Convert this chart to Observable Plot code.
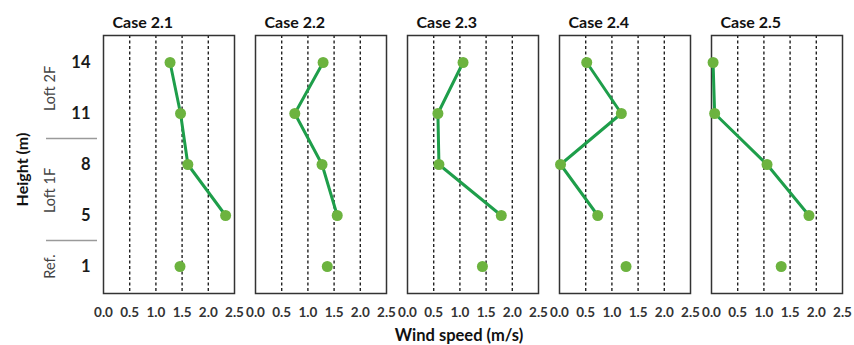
<!DOCTYPE html>
<html>
<head>
<meta charset="utf-8">
<script src="https://cdn.jsdelivr.net/npm/d3@7"></script>
<script src="https://cdn.jsdelivr.net/npm/@observablehq/plot@0.6"></script>
<style>
  html, body { margin: 0; padding: 0; background: #fff; }
</style>
</head>
<body>
<div id="chart"></div>
<script>
const cases = ["Case 2.1", "Case 2.2", "Case 2.3", "Case 2.4", "Case 2.5"];
const heights = ["14", "11", "8", "5", "1"];
const speed21 = [1.27, 1.47, 1.61, 2.33, 1.46];
const speed22 = [1.29, 0.75, 1.27, 1.56, 1.37];
const speed23 = [1.06, 0.58, 0.60, 1.79, 1.43];
const speed24 = [0.52, 1.18, 0.02, 0.73, 1.27];
const speed25 = [0.03, 0.06, 1.06, 1.86, 1.33];
const xTicks = [0, 0.5, 1.0, 1.5, 2.0, 2.5];
const gridValues = [0.5, 1.0, 1.5, 2.0];
const groupLabels = ["Loft 2F", "Loft 1F", "Ref."];
const profileHeights = ["14", "11", "8", "5"]; // connected by the line; "1" is the reference point
const xLabel = "Wind speed (m/s)";
const yLabel = "Height (m)";

const series = [speed21, speed22, speed23, speed24, speed25];
const rows = [];
cases.forEach((c, i) => heights.forEach((h, j) => rows.push({case: c, height: h, speed: series[i][j]})));
const lineRows = rows.filter(r => profileHeights.includes(r.height));

const lineColor = "#1e9e4a";
const dotColor = "#6cb33f";
const first = cases[0];
const groupStyle = {fx: () => first, frameAnchor: "left", textAnchor: "middle", lineAnchor: "middle", dx: -53, rotate: -90, text: d => d, fontSize: 14.5, fontWeight: "normal", fill: "#444"};

const chart = Plot.plot({
  width: 854,
  height: 345,
  marginLeft: 103,
  marginRight: 11,
  marginTop: 35,
  marginBottom: 52,
  style: {fontFamily: "Lato, 'Open Sans', sans-serif", fontWeight: "bold", color: "#333", background: "#fff"},
  fx: {domain: cases, paddingInner: 0.138, paddingOuter: 0, axis: null},
  x: {domain: [0, 2.5]},
  y: {domain: heights, padding: 0.5},
  marks: [
    Plot.ruleX(gridValues, {x: d => d, stroke: "#222", strokeWidth: 1.4, strokeDasharray: "3,2.5"}),
    Plot.frame({stroke: "#333", strokeWidth: 1.5}),
    Plot.axisX({ticks: xTicks, tickFormat: d3.format(".1f"), tickSize: 0, tickPadding: 14, label: null, fontSize: 13.5, fill: "#333"}),
    Plot.axisY({tickSize: 0, tickPadding: 13, label: null, fontSize: 16.5, fill: "#1a1a1a"}),
    Plot.line(lineRows, {x: "speed", y: "height", fx: "case", stroke: lineColor, strokeWidth: 3}),
    Plot.dot(rows, {x: "speed", y: "height", fx: "case", r: 5.5, fill: dotColor, stroke: "none"}),
    Plot.text(cases, {fx: d => d, text: d => d, frameAnchor: "top-left", textAnchor: "start", lineAnchor: "middle", dx: 9, dy: -13, fontSize: 16, fill: "#111"}),
    // left-side group annotations
    Plot.ruleY(["11", "5"], {y: d => d, fx: () => first, dy: 25, insetLeft: -57, insetRight: 137, stroke: "#9a9a9a", strokeWidth: 1.3}),
    Plot.text([groupLabels[0]], {...groupStyle, y: () => "14", dy: 26}),
    Plot.text([groupLabels[1]], {...groupStyle, y: () => "8", dy: 26}),
    Plot.text([groupLabels[2]], {...groupStyle, y: () => "1"}),
    Plot.text([yLabel], {fx: () => first, frameAnchor: "left", textAnchor: "middle", lineAnchor: "middle", dx: -81, dy: 5, rotate: -90, text: d => d, fontSize: 16, fill: "#111"}),
    Plot.text([xLabel], {fx: () => cases[2], frameAnchor: "bottom", lineAnchor: "middle", dx: -14, dy: 42, text: d => d, fontSize: 16.5, fill: "#111"})
  ]
});
document.getElementById("chart").appendChild(chart);
</script>
</body>
</html>
